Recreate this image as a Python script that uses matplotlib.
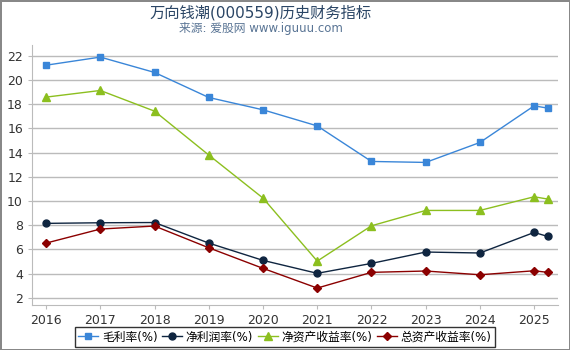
#!/usr/bin/env python3

from matplotlib import pyplot as plt
import matplotlib

matplotlib.rcParams["font.family"] = ["DejaVu Sans", "Noto Sans CJK SC"]

years = [2016, 2017, 2018, 2019, 2020, 2021, 2022, 2023, 2024, 2025, 2025.25]
year_ticks = [2016, 2017, 2018, 2019, 2020, 2021, 2022, 2023, 2024, 2025]

gross_margin = [21.23, 21.9, 20.63, 18.56, 17.54, 16.21, 13.27, 13.19, 14.84, 17.87, 17.68]
net_margin = [8.15, 8.2, 8.22, 6.52, 5.09, 4.02, 4.84, 5.78, 5.70, 7.40, 7.07]
roe = [18.59, 19.14, 17.43, 13.8, 10.24, 5.03, 7.95, 9.22, 9.22, 10.35, 10.16]
roa = [6.52, 7.68, 7.93, 6.13, 4.43, 2.8, 4.1, 4.21, 3.9, 4.23, 4.1]

series = [
    ("毛利率(%)", gross_margin, "#3a86d8", "s", 5),
    ("净利润率(%)", net_margin, "#0f2540", "o", 5),
    ("净资产收益率(%)", roe, "#8cbf1f", "^", 5.5),
    ("总资产收益率(%)", roa, "#8b0000", "D", 3.8),
]


def main():
    fig = plt.figure(figsize=(5.7, 3.5), dpi=100)
    fig.patch.set_edgecolor("#888888")
    fig.patch.set_linewidth(2)
    ax = fig.add_axes([32 / 570, 1 - 305 / 350, (558 - 32) / 570, (305 - 45) / 350])

    for label, vals, color, marker, ms in series:
        ax.plot(years, vals, "-", color=color, marker=marker, markersize=ms,
                linewidth=1, label=label)

    ax.set_xlim(2015.74, 2025.44)
    ax.set_ylim(1.4, 22.9)
    ax.set_xticks(year_ticks)
    ax.set_yticks(range(2, 23, 2))
    ax.grid(axis="y", color="#bbbbbb", linewidth=1)
    ax.set_axisbelow(True)
    for side in ["top", "right"]:
        ax.spines[side].set_visible(False)
    for side in ["left", "bottom"]:
        ax.spines[side].set_color("#bbbbbb")
    ax.tick_params(colors="#bbbbbb", labelcolor="#333333", labelsize=9,
                   length=3)

    fig.text(261 / 570, 0.965, "万向钱潮(000559)历史财务指标", ha="center",
             va="center", fontsize=11, color="#2a4565")
    fig.text(261 / 570, 0.918, "来源: 爱股网 www.iguuu.com", ha="center",
             va="center", fontsize=8.5, color="#5a7595")

    leg = fig.legend(loc="center", bbox_to_anchor=(0.5, 1 - 337 / 350),
                     ncol=4, fontsize=8.5, frameon=True, fancybox=False,
                     handlelength=1.7, handletextpad=0.3, columnspacing=0.4,
                     borderpad=0.3, borderaxespad=0)
    leg.get_frame().set_edgecolor("black")
    leg.get_frame().set_linewidth(1)

    fig.savefig("out.png", dpi=100)


if __name__ == "__main__":
    main()
